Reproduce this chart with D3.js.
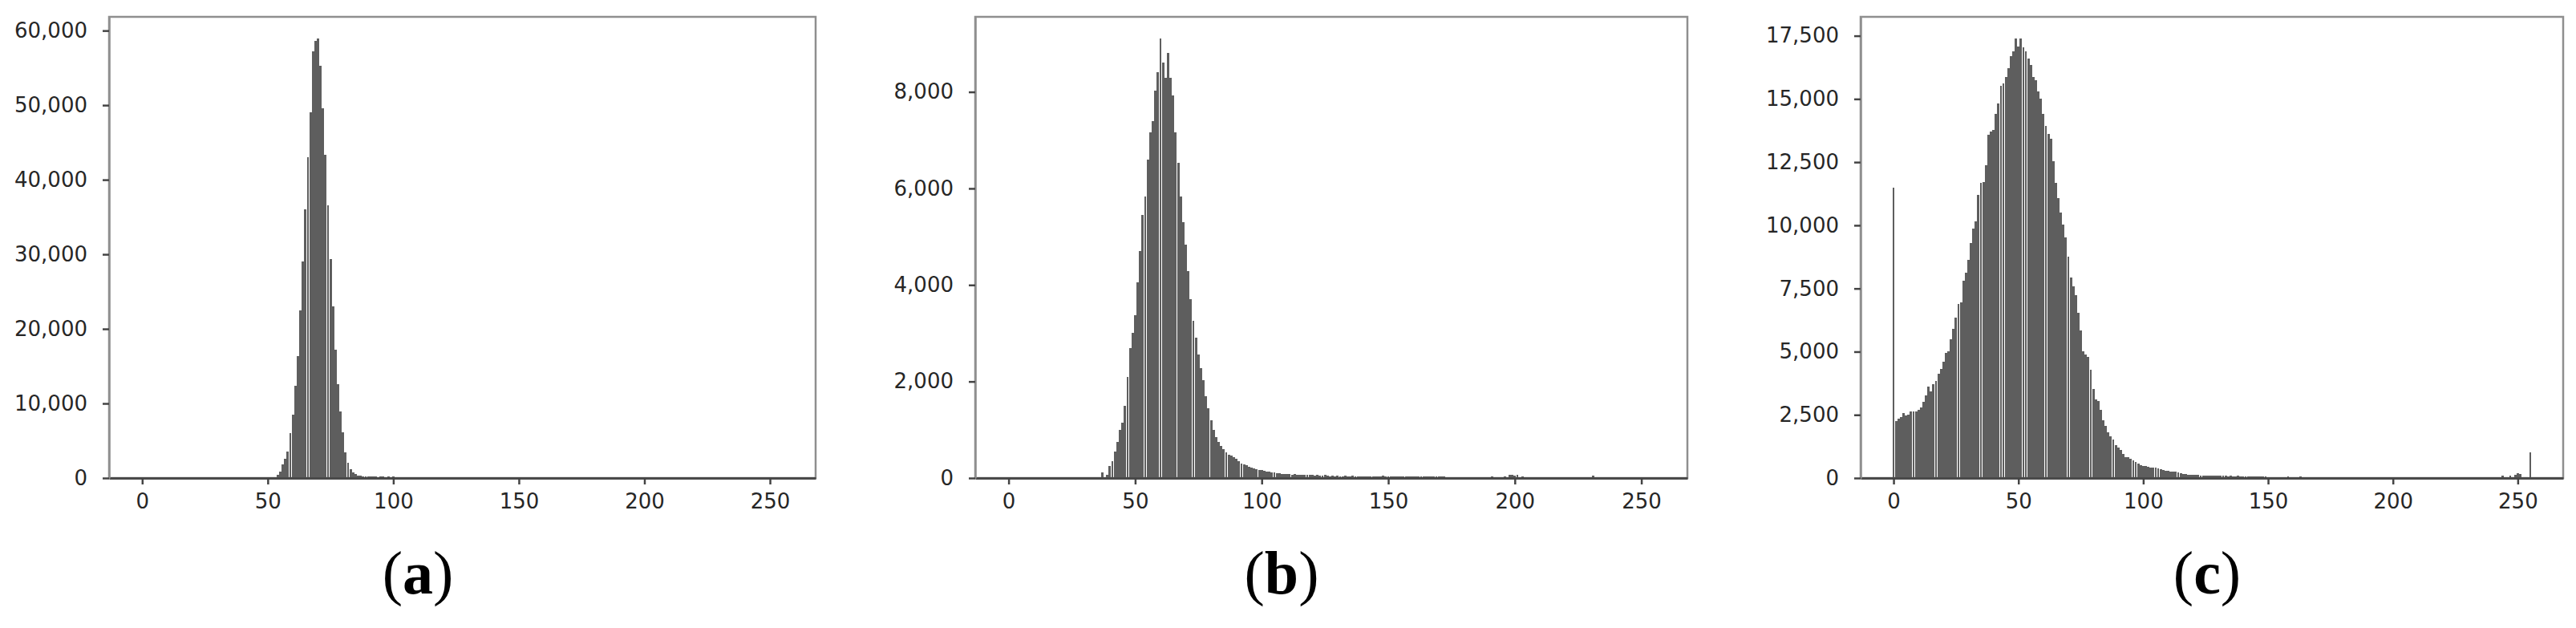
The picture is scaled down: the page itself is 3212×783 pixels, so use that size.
<!DOCTYPE html>
<html><head><meta charset="utf-8">
<script src="https://cdn.jsdelivr.net/npm/d3@7"></script>
<style>body{margin:0;background:#fff;} svg{display:block}</style>
</head><body><svg id="chart" width="3212" height="783"></svg>
<script>
// [pixel value, count] pairs
const histA = [[53,100],[54,400],[55,900],[56,1800],[57,2600],[58,3600],[59,6000],[60,8500],[61,12400],[62,16400],[63,22500],[64,29000],[65,36000],[66,43000],[67,49000],[68,57200],[69,58600],[70,58900],[71,55300],[72,49600],[73,43300],[74,36600],[75,29400],[76,23000],[77,17200],[78,12600],[79,8900],[80,6100],[81,3400],[82,2000],[83,1200],[84,800],[85,500],[86,350],[87,300],[88,250],[89,200],[90,250],[91,200],[92,250],[93,200],[94,150],[95,250],[96,200],[97,150],[98,200],[99,150],[100,200],[101,150],[102,100],[103,150],[104,100],[106,100],[107,150],[108,100]];
const histB = [[37,120],[39,60],[40,250],[41,350],[42,550],[43,740],[44,1000],[45,1150],[46,1490],[47,2100],[48,2700],[49,3000],[50,3370],[51,4050],[52,4700],[53,5450],[54,5830],[55,6590],[56,7170],[57,7390],[58,8030],[59,8410],[60,9100],[61,8600],[62,8300],[63,8800],[64,8300],[65,7930],[66,7170],[67,6530],[68,5830],[69,5300],[70,4840],[71,4280],[72,3700],[73,3260],[74,2900],[75,2560],[76,2270],[77,2020],[78,1700],[79,1450],[80,1190],[81,1000],[82,850],[83,740],[84,660],[85,590],[86,530],[87,490],[88,460],[89,430],[90,400],[91,350],[92,300],[93,280],[94,260],[95,240],[96,220],[97,200],[98,180],[99,170],[100,160],[101,150],[102,140],[103,130],[104,120],[105,110],[106,100],[107,100],[108,90],[109,90],[110,80],[111,80],[112,70],[113,80],[114,70],[115,60],[116,70],[117,60],[118,70],[119,60],[120,60],[121,50],[122,60],[123,50],[124,50],[125,60],[126,50],[127,40],[128,50],[129,40],[130,50],[131,40],[132,40],[133,50],[134,40],[135,40],[136,50],[137,40],[138,30],[139,40],[140,40],[141,30],[142,40],[143,30],[144,40],[145,40],[146,30],[147,40],[148,50],[149,40],[150,30],[151,40],[152,30],[153,40],[154,30],[155,40],[156,30],[157,30],[158,40],[159,30],[160,30],[161,40],[162,30],[163,30],[164,40],[165,30],[166,30],[167,40],[168,30],[169,30],[170,40],[171,30],[172,30],[191,40],[196,40],[198,60],[199,60],[200,50],[201,60],[203,40],[231,50]];
const histC = [[0,11500],[1,2250],[2,2350],[3,2400],[4,2580],[5,2460],[6,2520],[7,2630],[8,2630],[9,2650],[10,2700],[11,2800],[12,3000],[13,3270],[14,3620],[15,3440],[16,3700],[17,3850],[18,4140],[19,4310],[20,4600],[21,4950],[22,5010],[23,5480],[24,5890],[25,6350],[26,6890],[27,6950],[28,7820],[29,8110],[30,8640],[31,9300],[32,9860],[33,10150],[34,11200],[35,11670],[36,11700],[37,12370],[38,13590],[39,13710],[40,13770],[41,14410],[42,14820],[43,15520],[44,15630],[45,15870],[46,16220],[47,16680],[48,16900],[49,17380],[50,17090],[51,17380],[52,17030],[53,16900],[54,16600],[55,16330],[56,15870],[57,15750],[58,15290],[59,15000],[60,14410],[61,13940],[62,13600],[63,13420],[64,12540],[65,11670],[66,11090],[67,10500],[68,10040],[69,9510],[70,8760],[71,7950],[72,7600],[73,7250],[74,6550],[75,5850],[76,5030],[77,4900],[78,4790],[79,4270],[80,3510],[81,3100],[82,3040],[83,2690],[84,2280],[85,2050],[86,1800],[87,1640],[88,1520],[89,1290],[90,1200],[91,1110],[92,940],[93,820],[94,820],[95,750],[96,700],[97,650],[98,560],[99,520],[100,470],[101,470],[102,450],[103,420],[104,410],[105,400],[106,380],[107,350],[108,330],[109,300],[110,280],[111,260],[112,250],[113,240],[114,230],[115,200],[116,170],[117,150],[118,140],[119,140],[120,130],[121,120],[122,120],[123,110],[124,100],[125,100],[126,90],[127,90],[128,90],[129,80],[130,90],[131,80],[132,80],[133,80],[134,70],[135,80],[136,70],[137,70],[138,80],[139,70],[140,60],[141,70],[142,60],[143,70],[144,60],[145,60],[146,50],[147,60],[148,50],[149,50],[150,40],[152,40],[153,40],[158,50],[163,50],[173,40],[176,40],[185,40],[189,40],[244,80],[247,100],[249,120],[250,200],[251,150],[255,1000]];

const xTickValues = [0, 50, 100, 150, 200, 250];
const yTicksA = [0, 10000, 20000, 30000, 40000, 50000, 60000];
const yTicksB = [0, 2000, 4000, 6000, 8000];
const yTicksC = [0, 2500, 5000, 7500, 10000, 12500, 15000, 17500];
const panelLetters = ["a", "b", "c"];

const series = [
  {hist: histA, yTicks: yTicksA},
  {hist: histB, yTicks: yTicksB},
  {hist: histC, yTicks: yTicksC}
];
const layout = [
  {left: 136, right: 1017, labelX: 521},
  {left: 1216, right: 2104, labelX: 1598},
  {left: 2320, right: 3196, labelX: 2752}
];
const plotTop = 21, plotBottom = 596;
const barW = 0.92;
const svg = d3.select("#chart");

series.forEach((s, i) => {
  const L = layout[i];
  const lo = -0.4, hi = 255.4, m = 0.05 * (hi - lo);
  const x = d3.scaleLinear().domain([lo - m, hi + m]).range([L.left, L.right]);
  const ymax = d3.max(s.hist, d => d[1]) * 1.05;
  const y = d3.scaleLinear().domain([0, ymax]).range([plotBottom, plotTop]);
  const g = svg.append("g");

  g.append("rect").attr("x", L.left).attr("y", plotTop)
    .attr("width", L.right - L.left).attr("height", plotBottom - plotTop)
    .attr("fill", "none").attr("stroke", "#8f8f8f").attr("stroke-width", 2.5);

  g.append("g").attr("shape-rendering", "crispEdges")
    .selectAll("rect").data(s.hist).join("rect")
    .attr("x", d => x(d[0] - barW / 2))
    .attr("width", x(barW) - x(0))
    .attr("y", d => y(d[1]))
    .attr("height", d => y(0) - y(d[1]))
    .attr("fill", "#5e5e5e");

  const xa = g.append("g").attr("transform", `translate(0,${plotBottom})`)
    .call(d3.axisBottom(x).tickValues(xTickValues).tickSize(8).tickSizeOuter(0).tickPadding(12).tickFormat(d3.format("d")));
  xa.select(".domain").attr("stroke", "#4a4a4a").attr("stroke-width", 3);
  xa.selectAll(".tick line").attr("stroke", "#444").attr("stroke-width", 2.5);

  const ya = g.append("g").attr("transform", `translate(${L.left},0)`)
    .call(d3.axisLeft(y).tickValues(s.yTicks).tickSize(8).tickSizeOuter(0).tickPadding(19).tickFormat(d3.format(",")));
  ya.select(".domain").attr("stroke", "#8f8f8f").attr("stroke-width", 2.5);
  ya.selectAll(".tick line").attr("stroke", "#444").attr("stroke-width", 2.5);

  g.selectAll(".tick text").attr("font-family", "'DejaVu Sans', sans-serif")
    .attr("font-size", 26).attr("fill", "#262626");

  const t = svg.append("text").attr("x", L.labelX).attr("y", 740)
    .attr("text-anchor", "middle").attr("font-family", "'Liberation Serif', serif")
    .attr("font-size", 76).attr("fill", "#000");
  t.append("tspan").text("(");
  t.append("tspan").attr("font-weight", "bold").text(panelLetters[i]);
  t.append("tspan").text(")");
});
</script>
</body></html>
